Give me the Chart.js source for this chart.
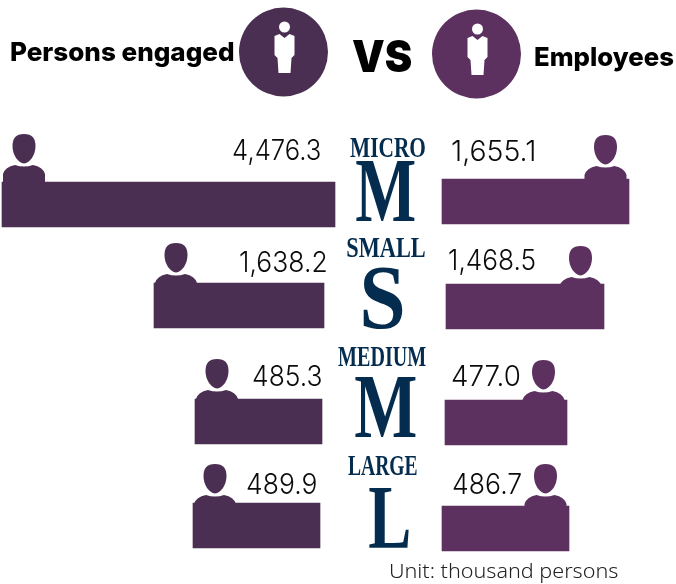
<!DOCTYPE html>
<html><head><meta charset="utf-8">
<style>html,body{margin:0;padding:0;background:#fff}canvas{display:block}</style>
<script src="https://cdn.jsdelivr.net/npm/chart.js@4"></script></head>
<body><canvas id="c" width="676" height="584"></canvas>
<script>
// Values as printed in the reference (thousand persons)
const categories = ['MICRO', 'SMALL', 'MEDIUM', 'LARGE'];
const initials = ['M', 'S', 'M', 'L'];
const personsEngaged = [4476.3, 1638.2, 485.3, 489.9];
const employees = [1655.1, 1468.5, 477.0, 486.7];
// The reference bars are not drawn to scale: extents and rows below are read off the picture
const personsFrom = [2, 154, 195, 193];
const personsTo = [335, 324, 322, 320];
const personsRow = [204.5, 305.5, 421.5, 525.5];
const employeesFrom = [442, 446, 445, 442];
const employeesTo = [629, 604, 567, 569];
const employeesRow = [201.5, 306.5, 422.5, 528.5];

const LEFT = '#4b2f52', RIGHT = '#5d315f', NAVY = '#042c4e';
const UI = 'Inter, "Liberation Sans", sans-serif';
const SERIF = '"Liberation Serif", serif';

function fitText(ctx, text, x0, x1, base, font, color) {
  ctx.save();
  ctx.font = font; ctx.fillStyle = color; ctx.textAlign = 'left'; ctx.textBaseline = 'alphabetic';
  const m = ctx.measureText(text);
  const w = m.actualBoundingBoxRight + m.actualBoundingBoxLeft;
  const k = (x1 - x0) / w;
  ctx.translate(x0 + m.actualBoundingBoxLeft * k, base);
  ctx.scale(k, 1);
  ctx.fillText(text, 0, 0);
  ctx.restore();
}
function person(ctx, cx, headTop, color) {
  ctx.fillStyle = color;
  ctx.beginPath();
  ctx.moveTo(cx, headTop);
  ctx.bezierCurveTo(cx + 8, headTop, cx + 11.5, headTop + 4, cx + 11.5, headTop + 12);
  ctx.bezierCurveTo(cx + 11.5, headTop + 21, cx + 6, headTop + 29, cx, headTop + 29.5);
  ctx.bezierCurveTo(cx - 6, headTop + 29, cx - 11.5, headTop + 21, cx - 11.5, headTop + 12);
  ctx.bezierCurveTo(cx - 11.5, headTop + 4, cx - 8, headTop, cx, headTop);
  ctx.fill();
  const s = headTop + 31;
  ctx.beginPath();
  ctx.moveTo(cx - 21, s + 20);
  ctx.lineTo(cx - 21, s + 9);
  ctx.quadraticCurveTo(cx - 19, s + 2, cx - 9, s);
  ctx.quadraticCurveTo(cx, s + 3, cx + 9, s);
  ctx.quadraticCurveTo(cx + 19, s + 2, cx + 21, s + 9);
  ctx.lineTo(cx + 21, s + 20);
  ctx.closePath();
  ctx.fill();
}
function badge(ctx, cx, cy, color) {
  ctx.fillStyle = color;
  ctx.beginPath(); ctx.arc(cx, cy, 44.5, 0, Math.PI * 2); ctx.fill();
  ctx.fillStyle = '#fff';
  const x = cx + 1;
  ctx.beginPath(); ctx.arc(x, cy - 25, 5.5, 0, Math.PI * 2); ctx.fill();
  ctx.beginPath();
  ctx.moveTo(x - 10, cy - 16);
  ctx.lineTo(x - 5, cy - 18);
  ctx.lineTo(x, cy - 14);
  ctx.lineTo(x + 5, cy - 18);
  ctx.lineTo(x + 10, cy - 16);
  ctx.lineTo(x + 10, cy + 3);
  ctx.lineTo(x + 7, cy + 6);
  ctx.lineTo(x + 6, cy + 21);
  ctx.lineTo(x - 6, cy + 21);
  ctx.lineTo(x - 7, cy + 6);
  ctx.lineTo(x - 10, cy + 3);
  ctx.closePath(); ctx.fill();
}

const decor = {
  id: 'decor',
  beforeDatasetsDraw(chart) {
    const ctx = chart.ctx;
    const L = chart.getDatasetMeta(0).data, R = chart.getDatasetMeta(1).data;
    const leftTop = [134, 243, 359, 464], rightTop = [135, 246, 360, 464];
    L.forEach((b, i) => person(ctx, Math.min(b.x, b.base) + 22, leftTop[i], LEFT));
    R.forEach((b, i) => person(ctx, Math.max(b.x, b.base) - 23.5, rightTop[i], RIGHT));
  },
  afterDatasetsDraw(chart) {
    const ctx = chart.ctx;
    const fmt = v => v.toLocaleString('en-US', { minimumFractionDigits: 1, maximumFractionDigits: 1 });
    const VALUE = '350 29px ' + UI;
    const leftBox = [[233, 320, 160], [240, 326, 272], [253, 321, 386], [247, 316, 494]];
    const rightBox = [[452, 534, 161], [449, 535, 270], [452, 520, 386], [453, 521, 494]];
    personsEngaged.forEach((v, i) => fitText(ctx, fmt(v), leftBox[i][0], leftBox[i][1], leftBox[i][2], VALUE, '#0b0b0b'));
    employees.forEach((v, i) => fitText(ctx, fmt(v), rightBox[i][0], rightBox[i][1], rightBox[i][2], VALUE, '#0b0b0b'));

    const nameBox = [[350, 425, 157], [347, 425, 257], [338, 426, 366], [348, 417, 475]];
    const bigBox = [[356, 415, 221], [363, 403, 328], [355, 416, 437], [369, 409, 548]];
    categories.forEach((t, i) => fitText(ctx, t, nameBox[i][0], nameBox[i][1], nameBox[i][2], '700 30px ' + SERIF, NAVY));
    initials.forEach((t, i) => fitText(ctx, t, bigBox[i][0], bigBox[i][1], bigBox[i][2], '700 92px ' + SERIF, NAVY));

    badge(ctx, 283.5, 52, LEFT);
    badge(ctx, 476.5, 54, RIGHT);
    fitText(ctx, 'Persons engaged', 11, 234, 61, '800 26px ' + UI, '#000');
    fitText(ctx, 'VS', 352, 412, 72, '900 44px ' + UI, '#000');
    fitText(ctx, 'Employees', 535, 674, 66, '800 26px ' + UI, '#000');
    fitText(ctx, 'Unit: thousand persons', 390, 618, 578, '300 20px "Noto Sans", sans-serif', '#222');
  }
};

const toBars = (from, to, row) => row.map((y, i) => ({ x: [from[i], to[i]], y }));

new Chart(document.getElementById('c'), {
  type: 'bar',
  data: {
    datasets: [
      { label: 'Persons engaged', data: toBars(personsFrom, personsTo, personsRow), backgroundColor: LEFT, borderWidth: 0, barThickness: 45, grouped: false },
      { label: 'Employees', data: toBars(employeesFrom, employeesTo, employeesRow), backgroundColor: RIGHT, borderWidth: 0, barThickness: 45, grouped: false }
    ]
  },
  options: {
    indexAxis: 'y',
    responsive: false,
    animation: false,
    layout: { padding: 0 },
    plugins: { legend: { display: false }, title: { display: false }, tooltip: { enabled: false } },
    scales: {
      x: { type: 'linear', min: 0, max: 676, display: false },
      y: { type: 'linear', min: 0, max: 584, reverse: true, display: false, offset: false }
    }
  },
  plugins: [decor]
});
</script></body></html>
